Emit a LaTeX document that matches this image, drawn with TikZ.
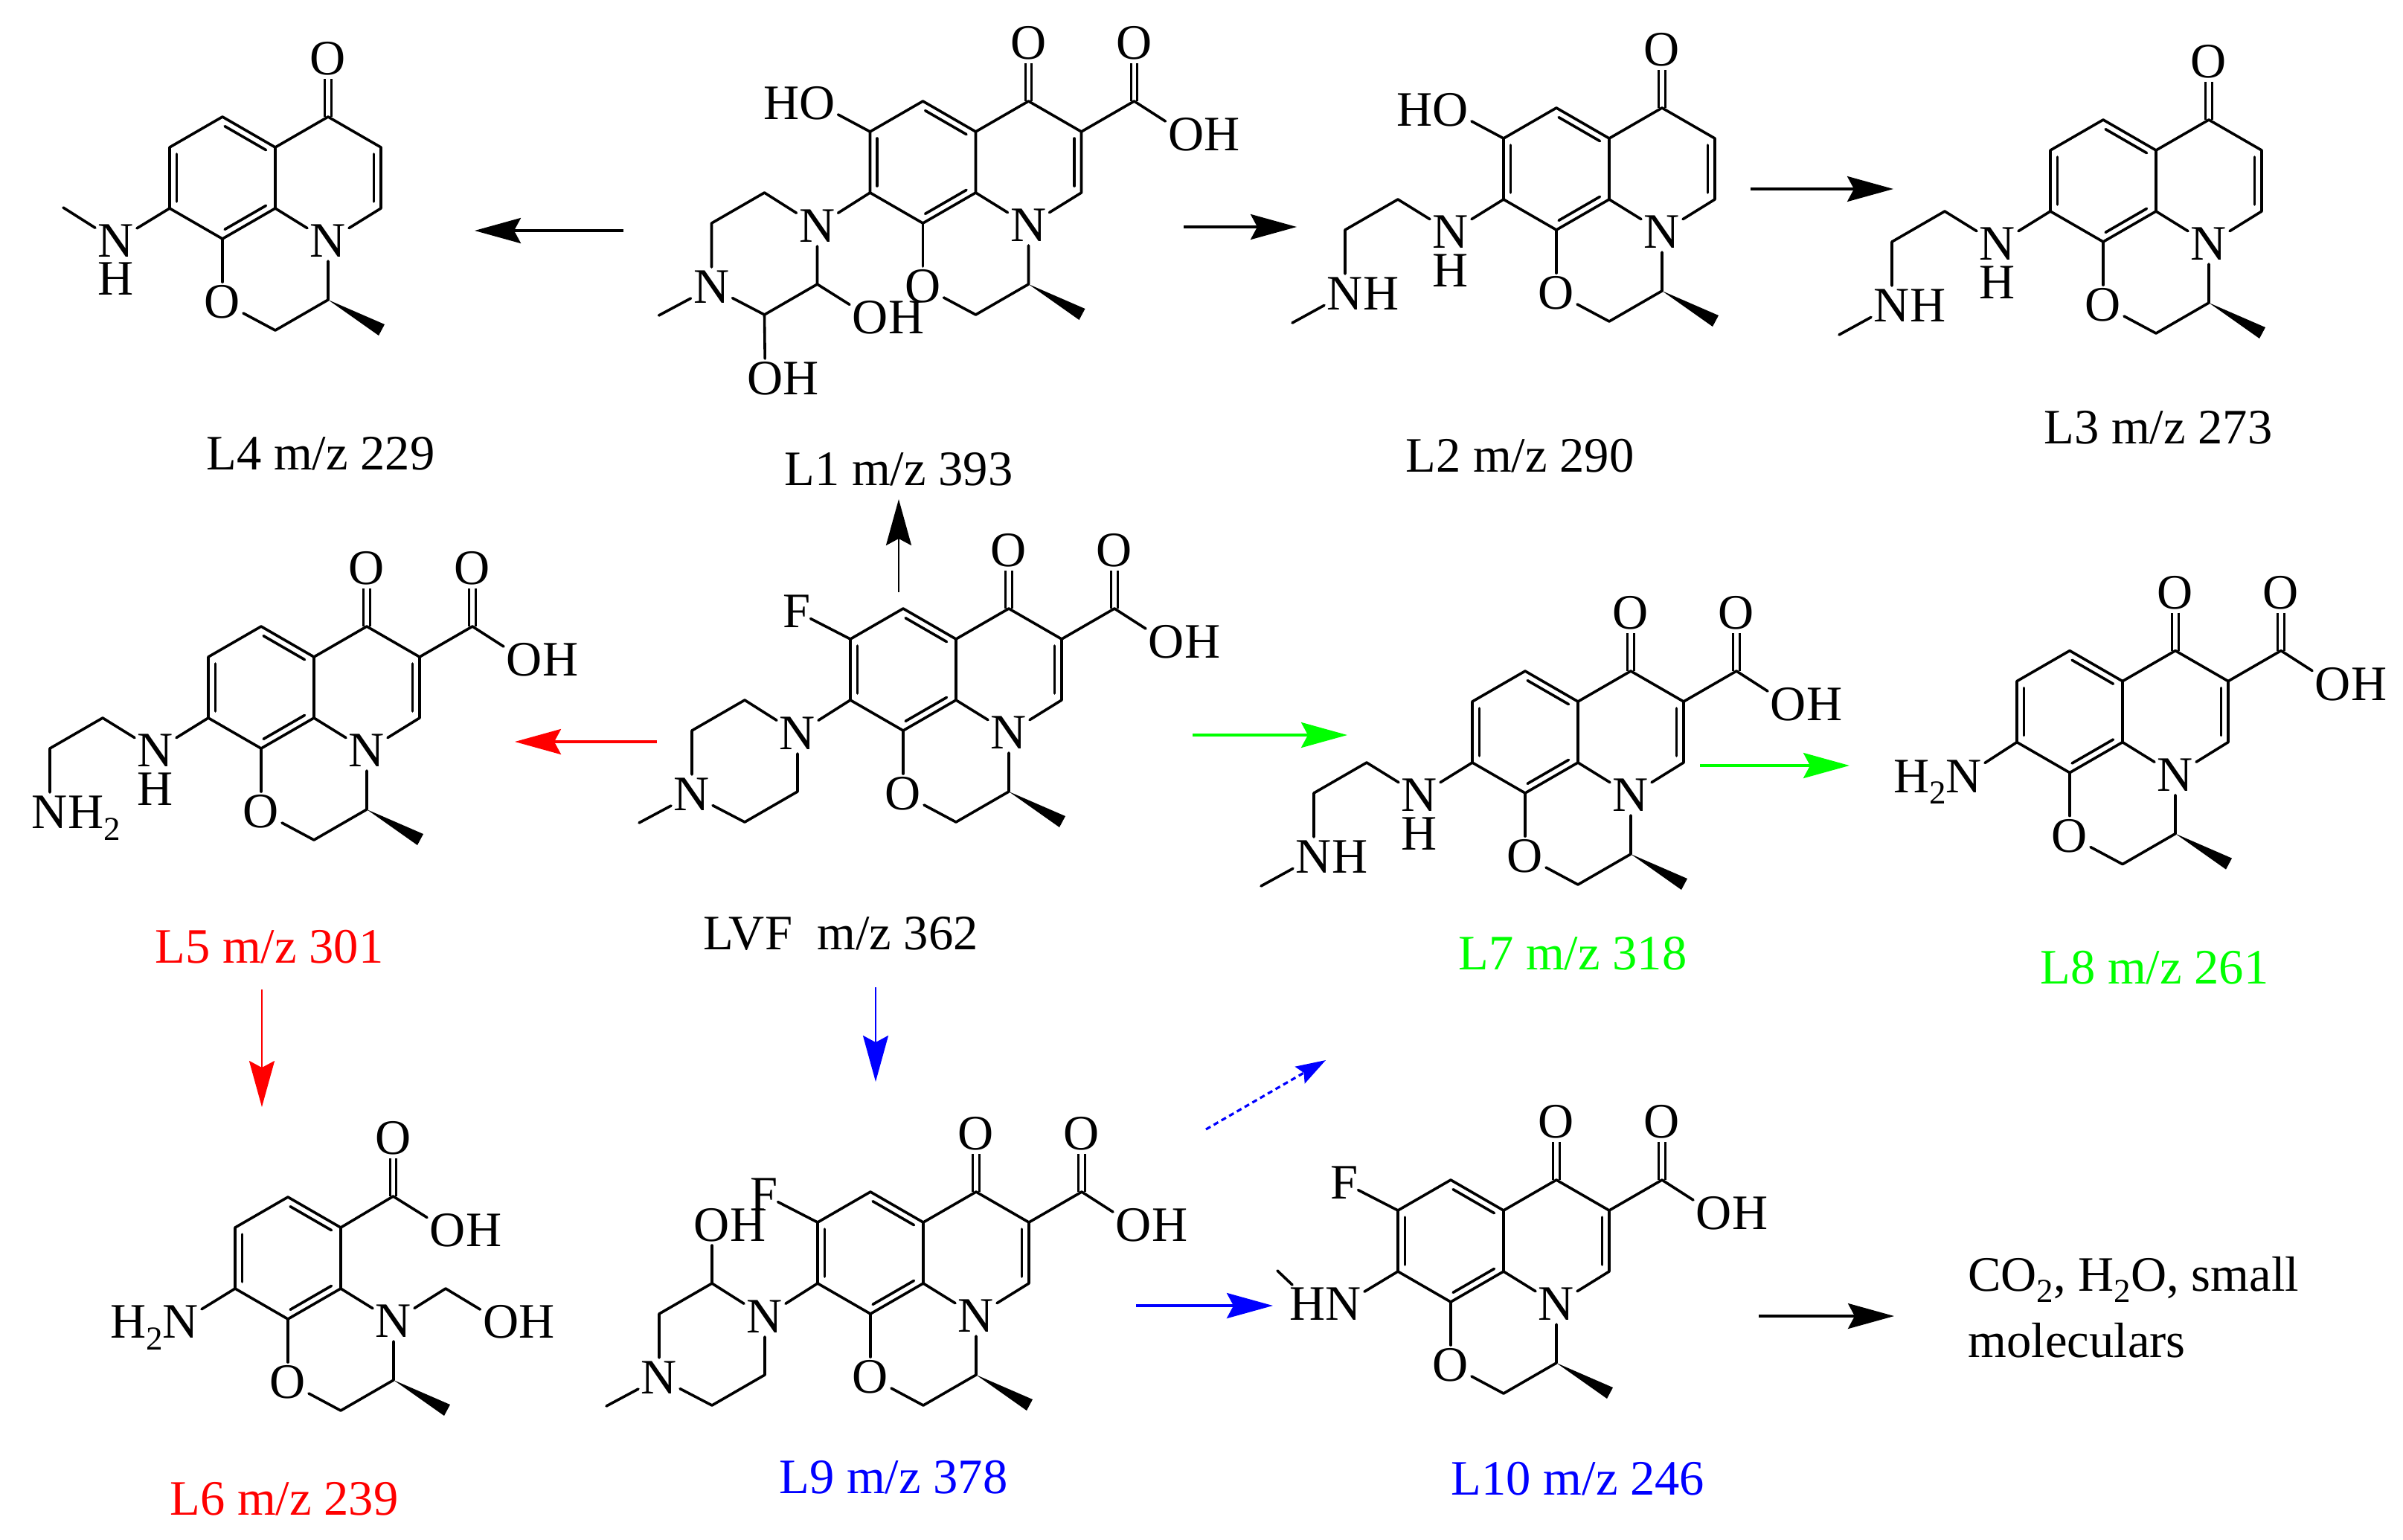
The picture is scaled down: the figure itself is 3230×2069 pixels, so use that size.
\documentclass[tikz,border=0pt]{standalone}
\usepackage{fontspec}
\setmainfont{Liberation Serif}
\usetikzlibrary{calc,arrows.meta}
\tikzset{
  bond/.style={line width=1.8pt,line cap=round,line join=round},
  cobond/.style={line width=1.5pt,double,double distance=2.6pt},
  atom/.style={inner sep=0pt,outer sep=0pt,minimum width=28pt,minimum height=27pt,
    font=\fontsize{33.3}{33.3}\selectfont},
  slim/.style={minimum width=15pt},
  lab/.style={inner sep=0pt,font=\fontsize{33.3}{33.3}\selectfont},
  rxn/.style={line width=1.75pt,-{Stealth[length=31pt,width=17pt,inset=4.5pt]}},
  rxnthin/.style={line width=1.4pt,-{Stealth[length=31pt,width=17pt,inset=4.5pt]}},
  rxndash/.style={line width=1.6pt,dash pattern=on 3.5pt off 2.5pt,-{Stealth[length=20pt,width=13pt,inset=3pt]}},
}
\newcommand\subtwo{\smash{\raisebox{-.23em}{\fontsize{22.5}{22.5}\selectfont 2}}}
\newcommand\dbl[2]{\draw[bond] ($(#1)!.11!(#2)!4.7pt!90:(#2)$) -- ($(#2)!.11!(#1)!4.7pt!-90:(#1)$);}
% benzene ring and oxazine ring
\newcommand\fused[1]{%
  \coordinate (#1a8) at (0,0);
  \coordinate (#1a8a) at (71,-41);
  \coordinate (#1a4a) at (71,-123);
  \coordinate (#1a5) at (0,-164);
  \coordinate (#1a6) at (-71,-123);
  \coordinate (#1a7) at (-71,-41);
  \coordinate (#1ch2) at (71,123);
  \coordinate (#1ch) at (142,82);
  \coordinate (#1me1) at (218,115);
  \coordinate (#1me2) at (210,130);
  \node[atom] (#1O) at (0,85) {O};
  \node[atom] (#1N) at (142,3) {N};
  \draw[bond] (#1a5) -- (#1a6) -- (#1a7) -- (#1a8) -- (#1a8a) -- (#1a4a) -- cycle;
  \dbl{#1a6}{#1a7}
  \dbl{#1a8}{#1a8a}
  \dbl{#1a4a}{#1a5}
  \draw[bond] (#1a8) -- (#1O);
  \draw[bond] (#1a8a) -- (#1N);
  \draw[bond] (#1O) -- (#1ch2) -- (#1ch) -- (#1N);
  \fill (#1ch) -- (#1me1) -- (#1me2) -- cycle;
}
% pyridone ring
\newcommand\pyridone[1]{%
  \coordinate (#1c4) at (142,-164);
  \coordinate (#1c3) at (213,-123);
  \coordinate (#1c2) at (213,-41);
  \node[atom] (#1Ok) at (142,-242) {O};
  \draw[cobond] (#1Ok) -- (#1c4);
  \draw[bond] (#1a4a) -- (#1c4) -- (#1c3) -- (#1c2) -- (#1N);
  \dbl{#1c2}{#1c3}
}
% carboxylic acid on c3
\newcommand\acid[1]{%
  \coordinate (#1k) at (284,-164);
  \node[atom] (#1Oa) at (284,-242) {O};
  \node[atom] (#1Oh) at (354,-119) {O\rlap{H}};
  \draw[cobond] (#1Oa) -- (#1k);
  \draw[bond] (#1c3) -- (#1k) -- (#1Oh);
}
% piperazine on c7
\newcommand\pipz[1]{%
  \node[atom] (#1Na) at (-142,4) {N};
  \node[atom] (#1Nb) at (-284,86) {N};
  \coordinate (#1p1) at (-213,-41);
  \coordinate (#1p2) at (-284,0);
  \coordinate (#1p3) at (-213,123);
  \coordinate (#1p4) at (-142,82);
  \coordinate (#1pm) at (-355,124);
  \draw[bond] (#1a7) -- (#1Na);
  \draw[bond] (#1Na) -- (#1p1) -- (#1p2) -- (#1Nb);
  \draw[bond] (#1Nb) -- (#1p3) -- (#1p4) -- (#1Na);
  \draw[bond] (#1Nb) -- (#1pm);
}
% open aminoethyl chain on c7; #2 is the text of the end group
\newcommand\chainN[2]{%
  \node[atom] (#1Na) at (-142,3) {N};
  \node[atom] (#1Ha) at (-142,55) {H};
  \node[atom] (#1Nb) at (-284,86) {#2};
  \coordinate (#1p1) at (-213,-41);
  \coordinate (#1p2) at (-284,0);
  \draw[bond] (#1a7) -- (#1Na);
  \draw[bond] (#1Na) -- (#1p1) -- (#1p2) -- (#1Nb);
}
\newcommand\chainMe[1]{%
  \coordinate (#1pm) at (-355,125);
  \draw[bond] (#1Nb) -- (#1pm);
}
\newcommand\hydroxy[1]{%
  \node[atom] (#1HO) at (-142,-161) {\llap{H}O};
  \draw[bond] (#1a6) -- (#1HO);
}
\newcommand\fluoro[1]{%
  \node[atom,slim] (#1F) at (-143,-160) {F};
  \draw[bond] (#1a6) -- (#1F);
}
\begin{document}
\begin{tikzpicture}[x=0.5pt,y=-0.5pt]
\useasboundingbox (0,0) rectangle (3230,2069);
\fill[white] (0,0) rectangle (3230,2069);

% L4
\begin{scope}[shift={(299,321)}]
  \fused{A}\pyridone{A}
  \node[atom] (ANa) at (-143,3) {N};
  \node[atom] (AHa) at (-143,54) {H};
  \coordinate (Apm) at (-214,-42);
  \draw[bond] (Aa7) -- (ANa) -- (Apm);
\end{scope}
\node[lab] (labA) at (431,610) {L4 m/z 229};

% L1
\begin{scope}[shift={(1240.5,300)}]
  \fused{B}\pyridone{B}\acid{B}\pipz{B}\hydroxy{B}
  \node[atom] (BOa1) at (-70.5,127) {O\rlap{H}};
  \node[atom] (BOa2) at (-212,209) {O\rlap{H}};
  \draw[bond] (Bp4) -- (BOa1);
  \draw[bond] (Bp3) -- (BOa2);
\end{scope}
\node[lab] (labB) at (1208,631) {L1 m/z 393};

% L2
\begin{scope}[shift={(2092,309)}]
  \fused{C}\pyridone{C}\chainN{C}{N\rlap{H}}\chainMe{C}\hydroxy{C}
\end{scope}
\node[lab] (labC) at (2043,613) {L2 m/z 290};

% L3
\begin{scope}[shift={(2827,325)}]
  \fused{D}\pyridone{D}\chainN{D}{N\rlap{H}}\chainMe{D}
\end{scope}
\node[lab] (labD) at (2901,575) {L3 m/z 273};

% L5
\begin{scope}[shift={(351,1006)}]
  \fused{E}\pyridone{E}\acid{E}\chainN{E}{N\rlap{H\subtwo}}
\end{scope}
\node[lab,text=red] (labE) at (362,1273) {L5 m/z 301};

% LVF
\begin{scope}[shift={(1214,982)}]
  \fused{F}\pyridone{F}\acid{F}\pipz{F}\fluoro{F}
\end{scope}
\node[lab] (labF) at (1130,1255) {LVF\ \ m/z 362};

% L7
\begin{scope}[shift={(2050,1066)}]
  \fused{G}\pyridone{G}\acid{G}\chainN{G}{N\rlap{H}}\chainMe{G}
\end{scope}
\node[lab,text=green] (labG) at (2114,1282) {L7 m/z 318};

% L8
\begin{scope}[shift={(2782,1038.6)}]
  \fused{H}\pyridone{H}\acid{H}
  \node[atom] (HNa) at (-142,5) {\llap{H\subtwo}N};
  \draw[bond] (Ha7) -- (HNa);
\end{scope}
\node[lab,text=green] (labH) at (2896,1301) {L8 m/z 261};

% L6
\begin{scope}[shift={(387,1773)}]
  \fused{I}
  \coordinate (Ik) at (141.5,-165);
  \coordinate (Ic) at (212,-41);
  \node[atom] (IOa) at (141.5,-243) {O};
  \node[atom] (IOh) at (215,-119) {O\rlap{H}};
  \node[atom] (INa) at (-144,4) {\llap{H\subtwo}N};
  \node[atom] (IOc) at (286.5,4) {O\rlap{H}};
  \draw[cobond] (IOa) -- (Ik);
  \draw[bond] (Ia4a) -- (Ik) -- (IOh);
  \draw[bond] (Ia7) -- (INa);
  \draw[bond] (IN) -- (Ic) -- (IOc);
\end{scope}
\node[lab,text=red] (labI) at (382,2015) {L6 m/z 239};

% L9
\begin{scope}[shift={(1170,1766)}]
  \fused{J}\pyridone{J}\acid{J}\pipz{J}\fluoro{J}
  \node[atom] (JOp) at (-213,-119) {O\rlap{H}};
  \draw[bond] (Jp1) -- (JOp);
\end{scope}
\node[lab,text=blue] (labJ) at (1201,1986) {L9 m/z 378};

% L10
\begin{scope}[shift={(1950,1750)}]
  \fused{K}\pyridone{K}\acid{K}\fluoro{K}
  \node[atom] (KNa) at (-144,3) {\llap{H}N};
  \coordinate (Km1) at (-233,-42);
  \coordinate (Km2) at (-213,-23);
  \draw[bond] (Ka7) -- (KNa);
  \draw[bond] (Km1) -- (Km2);
\end{scope}
\node[lab,text=blue] (labK) at (2121,1988) {L10 m/z 246};

% products
\node[lab,anchor=north west,align=left,font=\fontsize{33.3}{44.5}\selectfont] (prod) at (2645,1689)
  {CO\subtwo, H\subtwo O, small\\moleculars};

% reaction arrows: free ends
\coordinate (r1s) at (838,310);   \coordinate (r1e) at (638,310);
\coordinate (r2s) at (1591,305);  \coordinate (r2e) at (1743,305);
\coordinate (r3s) at (2353,254);  \coordinate (r3e) at (2545,254);
\coordinate (r4s) at (1208,796);  \coordinate (r4e) at (1208,671);
\coordinate (r5s) at (883,997);   \coordinate (r5e) at (692,997);
\coordinate (r6s) at (352,1330);  \coordinate (r6e) at (352,1488);
\coordinate (r7s) at (1603,988);  \coordinate (r7e) at (1811,988);
\coordinate (r8s) at (2285,1029); \coordinate (r8e) at (2486,1029);
\coordinate (r9s) at (1177,1327); \coordinate (r9e) at (1177,1454);
\coordinate (r10s) at (1527,1755);\coordinate (r10e) at (1711,1755);
\coordinate (r11s) at (1621,1518);\coordinate (r11e) at (1782,1425);
\coordinate (r12s) at (2364,1769);\coordinate (r12e) at (2546,1769);

\draw[rxn] (r1s) -- (r1e);
\draw[rxn] (r2s) -- (r2e);
\draw[rxn] (r3s) -- (r3e);
\draw[rxnthin] (r4s) -- (r4e);
\draw[rxn,red] (r5s) -- (r5e);
\draw[rxnthin,red] (r6s) -- (r6e);
\draw[rxn,green] (r7s) -- (r7e);
\draw[rxn,green] (r8s) -- (r8e);
\draw[rxnthin,blue] (r9s) -- (r9e);
\draw[rxn,blue] (r10s) -- (r10e);
\draw[rxndash,blue] (r11s) -- (r11e);
\draw[rxn] (r12s) -- (r12e);
\end{tikzpicture}
\end{document}
